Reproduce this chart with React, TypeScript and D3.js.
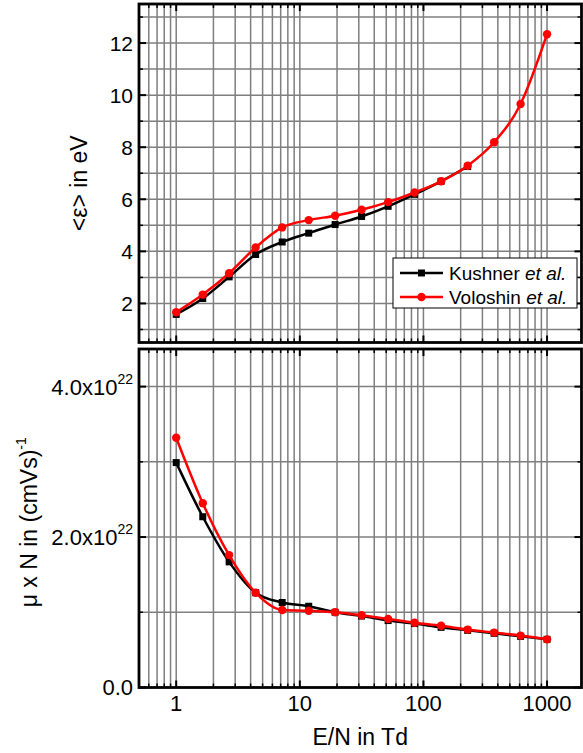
import React from "react";
import * as d3 from "d3";

// Reduced field E/N in Td
const enTd = [1, 1.64, 2.68, 4.39, 7.2, 11.8, 19.3, 31.6, 51.8, 84.8, 139, 228, 373, 611, 1000];

// Mean electron energy in eV
const energyKushner = [1.58, 2.19, 3.02, 3.88, 4.36, 4.7, 5.03, 5.34, 5.73, 6.19, 6.69, 7.26];
const energyVoloshin = [1.66, 2.34, 3.16, 4.15, 4.92, 5.2, 5.37, 5.6, 5.89, 6.26, 6.69, 7.29, 8.19, 9.66, 12.34];

// Reduced mobility mu x N in (cm V s)^-1
const mobilityKushner = [2.99e22, 2.27e22, 1.67e22, 1.26e22, 1.13e22, 1.08e22, 1.0e22, 0.95e22, 0.89e22, 0.85e22, 0.8e22, 0.76e22, 0.72e22, 0.68e22, 0.64e22];
const mobilityVoloshin = [3.32e22, 2.45e22, 1.76e22, 1.26e22, 1.03e22, 1.02e22, 1.0e22, 0.96e22, 0.91e22, 0.86e22, 0.82e22, 0.77e22, 0.73e22, 0.69e22, 0.64e22];

const xMajor = [1, 10, 100, 1000];
const xMajorLabels = ["1", "10", "100", "1000"];
const energyMajor = [2, 4, 6, 8, 10, 12];
const mobilityMajor = [0, 2e22, 4e22];
const mobilityLabels = ["0.0", "2.0x10", "4.0x10"];
const legendNames = ["Kushner", "Voloshin"];

const W = 583;
const H = 753;
const left = 139;
const right = 581.5;
const FONT = "'Liberation Sans', Arial, sans-serif";
const GRID = "#7f7f7f";
const RED = "#ff0000";

const x = d3.scaleLog().domain([0.5, 1900]).range([left, right]);
const yTop = d3.scaleLinear().domain([0.5, 13.5]).range([342.5, 4]);
const yBot = d3.scaleLinear().domain([0, 4.5e22]).range([687.5, 349]);

// Minor log ticks (2..9 in every decade) inside the domain
const xAll: number[] = [];
for (let dec = -1; dec <= 3; dec++) {
  for (let m = 1; m <= 9; m++) {
    const v = m * Math.pow(10, dec);
    if (v > 0.5 && v < 1900) xAll.push(v);
  }
}
const xMinor = xAll.filter((v) => !xMajor.includes(v));

const topGrid = d3.range(1, 14);
const topMinor = topGrid.filter((v) => v % 2 === 1);
const botGrid = [1e22, 2e22, 3e22, 4e22];
const botMinor = [1e22, 3e22];

function Panel({ y, top, bottom, gridY, majorY, minorY }: any) {
  const majLen = 7;
  const minLen = 4;
  return (
    <g>
      {/* grid */}
      {xAll.map((v) => (
        <line key={"gx" + v} x1={x(v)} x2={x(v)} y1={top} y2={bottom} stroke={GRID} strokeWidth={1.5} />
      ))}
      {gridY.map((v: number) => (
        <line key={"gy" + v} x1={left} x2={right} y1={y(v)} y2={y(v)} stroke={GRID} strokeWidth={1.5} />
      ))}
      {/* x ticks on bottom and top edges */}
      {xMajor.map((v) => (
        <g key={"xm" + v}>
          <line x1={x(v)} x2={x(v)} y1={bottom} y2={bottom - majLen} stroke="#000" strokeWidth={2} />
          <line x1={x(v)} x2={x(v)} y1={top} y2={top + majLen} stroke="#000" strokeWidth={2} />
        </g>
      ))}
      {xMinor.map((v) => (
        <g key={"xn" + v}>
          <line x1={x(v)} x2={x(v)} y1={bottom} y2={bottom - minLen} stroke="#000" strokeWidth={1.5} />
          <line x1={x(v)} x2={x(v)} y1={top} y2={top + minLen} stroke="#000" strokeWidth={1.5} />
        </g>
      ))}
      {/* y ticks on left and right edges */}
      {majorY.map((v: number) => (
        <g key={"ym" + v}>
          <line x1={left} x2={left + majLen} y1={y(v)} y2={y(v)} stroke="#000" strokeWidth={2} />
          <line x1={right} x2={right - majLen} y1={y(v)} y2={y(v)} stroke="#000" strokeWidth={2} />
        </g>
      ))}
      {minorY.map((v: number) => (
        <g key={"yn" + v}>
          <line x1={left} x2={left + minLen} y1={y(v)} y2={y(v)} stroke="#000" strokeWidth={1.5} />
          <line x1={right} x2={right - minLen} y1={y(v)} y2={y(v)} stroke="#000" strokeWidth={1.5} />
        </g>
      ))}
      <rect x={left} y={top} width={right - left} height={bottom - top} fill="none" stroke="#000" strokeWidth={2.8} />
    </g>
  );
}

function Series({ xs, ys, y, color, marker }: any) {
  const pts: [number, number][] = ys.map((v: number, i: number) => [x(xs[i]), y(v)]);
  const path = d3.line().curve(d3.curveMonotoneX)(pts) || "";
  return (
    <g>
      <path d={path} fill="none" stroke={color} strokeWidth={2.5} />
      {pts.map(([px, py], i) =>
        marker === "square" ? (
          <rect key={i} x={px - 3.5} y={py - 3.5} width={7} height={7} fill={color} />
        ) : (
          <circle key={i} cx={px} cy={py} r={4.2} fill={color} />
        )
      )}
    </g>
  );
}

export default function App() {
  const topTop = yTop.range()[1];
  const topBottom = yTop.range()[0];
  const botTop = yBot.range()[1];
  const botBottom = yBot.range()[0];

  return (
    <svg width={W} height={H} style={{ position: "absolute", left: 0, top: 0, background: "#fff" }} fontFamily={FONT}>
      <rect width={W} height={H} fill="#fff" />

      {/* upper panel: mean energy */}
      <Panel y={yTop} top={topTop} bottom={topBottom} gridY={topGrid} majorY={energyMajor} minorY={topMinor} />
      <Series xs={enTd} ys={energyKushner} y={yTop} color="#000" marker="square" />
      <Series xs={enTd} ys={energyVoloshin} y={yTop} color={RED} marker="circle" />
      {energyMajor.map((v) => (
        <text key={"tl" + v} x={133} y={yTop(v)} dy="0.36em" textAnchor="end" fontSize={21}>
          {v}
        </text>
      ))}
      <text transform={`translate(87,${(topTop + topBottom) / 2 + 10}) rotate(-90)`} textAnchor="middle" fontSize={23}>
        {"<ε> in eV"}
      </text>

      {/* legend */}
      <g>
        <rect x={393} y={258} width={184} height={50} fill="#fff" stroke="#000" strokeWidth={1} />
        {legendNames.map((name, i) => {
          const ly = 273 + i * 24;
          const color = i === 0 ? "#000" : RED;
          return (
            <g key={name}>
              <line x1={400} x2={443} y1={ly} y2={ly} stroke={color} strokeWidth={2.5} />
              {i === 0 ? (
                <rect x={418} y={ly - 3.5} width={7} height={7} fill={color} />
              ) : (
                <circle cx={421.5} cy={ly} r={4.2} fill={color} />
              )}
              <text x={449} y={ly} dy="0.36em" fontSize={19}>
                {name + " "}
                <tspan fontStyle="italic">et al.</tspan>
              </text>
            </g>
          );
        })}
      </g>

      {/* lower panel: reduced mobility */}
      <Panel y={yBot} top={botTop} bottom={botBottom} gridY={botGrid} majorY={mobilityMajor} minorY={botMinor} />
      <Series xs={enTd} ys={mobilityKushner} y={yBot} color="#000" marker="square" />
      <Series xs={enTd} ys={mobilityVoloshin} y={yBot} color={RED} marker="circle" />
      {mobilityMajor.map((v, i) =>
        v === 0 ? (
          <text key={"bl" + v} x={133} y={yBot(v)} dy="0.36em" textAnchor="end" fontSize={22}>
            {mobilityLabels[i]}
          </text>
        ) : (
          <text key={"bl" + v} x={133} y={yBot(v)} dy="0.36em" textAnchor="end" fontSize={22}>
            {mobilityLabels[i]}
            <tspan fontSize={14} dy="-0.75em">22</tspan>
          </text>
        )
      )}
      <text transform={`translate(37,${(botTop + botBottom) / 2 + 4}) rotate(-90)`} textAnchor="middle" fontSize={23}>
        {"μ x N in (cmVs)"}
        <tspan fontSize={14} dy="-0.8em">-1</tspan>
      </text>

      {/* x axis labels */}
      {xMajor.map((v, i) => (
        <text key={"xl" + v} x={x(v)} y={711} textAnchor="middle" fontSize={22}>
          {xMajorLabels[i]}
        </text>
      ))}
      <text x={(left + right) / 2} y={745} textAnchor="middle" fontSize={23}>
        E/N in Td
      </text>
    </svg>
  );
}
